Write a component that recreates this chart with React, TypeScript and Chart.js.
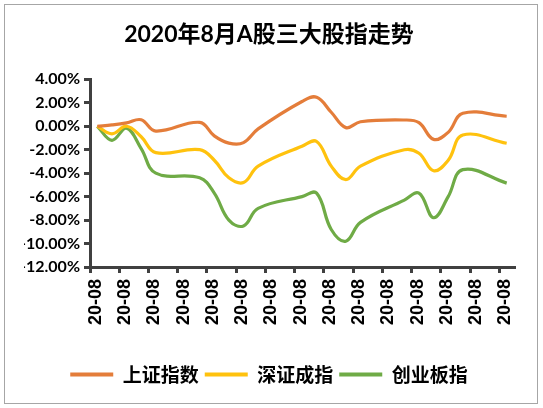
import { useEffect, useRef } from "react";
import { Chart, registerables } from "chart.js";

Chart.register(...registerables);

// trading days of August 2020
const days = [3, 4, 5, 6, 7, 10, 11, 12, 13, 14, 17, 18, 19, 20, 21, 24, 25, 26, 27, 28, 31];

// cumulative change, %
const shanghai = [0, 0.11, 0.28, 0.55, -0.41, 0.33, -0.82, -1.44, -1.4, -0.23, 2.11, 2.47, 1.19, -0.12, 0.38, 0.53, 0.3, -1.12, -0.52, 1.1, 0.85];
const shenzhen = [0, -0.65, 0.0, -0.9, -2.25, -2.0, -2.9, -4.4, -4.8, -3.4, -1.7, -1.3, -3.4, -4.55, -3.4, -2.0, -2.3, -3.8, -2.9, -0.75, -1.45];
const chinext = [0, -1.2, -0.17, -1.9, -4.0, -4.4, -5.7, -8.0, -8.5, -7.0, -6.0, -5.7, -8.8, -9.8, -8.2, -6.3, -5.7, -7.8, -6.0, -3.7, -4.85];

const seriesNames = ["上证指数", "深证成指", "创业板指"];

// date axis ticks every two days (bucket edges) with the month label
const tickPositions = [2.5, 4.5, 6.5, 8.5, 10.5, 12.5, 14.5, 16.5, 18.5, 20.5, 22.5, 24.5, 26.5, 28.5, 30.5];
const tickLabels = ["20-08", "20-08", "20-08", "20-08", "20-08", "20-08", "20-08", "20-08", "20-08", "20-08", "20-08", "20-08", "20-08", "20-08", "20-08"];

const axisColor = "#404040";

export default function App() {
  const canvasRef = useRef<HTMLCanvasElement>(null);
  const chartRef = useRef<Chart | null>(null);

  useEffect(() => {
    document.body.style.margin = "0";
    if (!canvasRef.current) return;
    if (chartRef.current) chartRef.current.destroy();

    const toPoints = (vals: number[]) => vals.map((v, i) => ({ x: days[i], y: v }));
    const colors = ["#E47D3A", "#FFC20E", "#6FAB46"];
    const values = [shanghai, shenzhen, chinext];

    chartRef.current = new Chart(canvasRef.current, {
      type: "line",
      data: {
        datasets: values.map((vals, i) => ({
          label: seriesNames[i],
          data: toPoints(vals),
          borderColor: colors[i],
          backgroundColor: colors[i],
          borderWidth: 3.2,
          pointRadius: 0,
          tension: 0.4,
        })),
      },
      options: {
        animation: false,
        responsive: true,
        maintainAspectRatio: false,
        layout: { padding: { left: 24, right: 29, top: 0, bottom: 14 } },
        scales: {
          x: {
            type: "linear",
            min: 2.5,
            max: 31.5,
            afterBuildTicks: (scale) => {
              scale.ticks = tickPositions.map((v) => ({ value: v }));
            },
            afterFit: (scale) => {
              scale.height = 92;
            },
            ticks: {
              autoSkip: false,
              minRotation: 90,
              maxRotation: 90,
              labelOffset: 6,
              padding: 6,
              color: "#000",
              font: { family: "'Liberation Sans', Arial, sans-serif", weight: "bold", size: 18 },
              callback: (_v, i) => tickLabels[i],
            },
            grid: {
              drawOnChartArea: false,
              drawTicks: true,
              tickLength: 6,
              lineWidth: 3,
              color: axisColor,
            },
            border: { display: true, color: axisColor, width: 3 },
          },
          y: {
            min: -12,
            max: 4,
            afterFit: (scale) => {
              scale.width = 66;
            },
            ticks: {
              stepSize: 2,
              padding: 4,
              color: "#000",
              font: { family: "Lato, sans-serif", weight: "bold", size: 16 },
              callback: (v) => Number(v).toFixed(2) + "%",
            },
            grid: {
              drawOnChartArea: false,
              drawTicks: true,
              tickLength: 6,
              lineWidth: 3,
              color: axisColor,
            },
            border: { display: true, color: axisColor, width: 3 },
          },
        },
        plugins: {
          title: {
            display: true,
            text: "2020年8月A股三大股指走势",
            color: "#000",
            font: { family: "Lato, 'Noto Sans CJK SC', sans-serif", weight: "bold", size: 23 },
            padding: { top: 21, bottom: 30.7 },
          },
          legend: {
            position: "bottom",
            labels: {
              boxWidth: 43,
              boxHeight: 4,
              padding: 6,
              color: "#000",
              font: { family: "'Noto Sans CJK SC', sans-serif", weight: "bold", size: 19 },
              generateLabels: (chart) =>
                Chart.defaults.plugins.legend.labels
                  .generateLabels(chart)
                  .map((item) => ({ ...item, lineWidth: 0, fillStyle: item.strokeStyle })),
            },
          },
          tooltip: { enabled: false },
        },
      },
    });

    return () => {
      if (chartRef.current) {
        chartRef.current.destroy();
        chartRef.current = null;
      }
    };
  }, []);

  return (
    <div style={{ position: "relative", width: 543, height: 408, background: "#fff" }}>
      <div
        style={{
          position: "absolute",
          left: 4,
          top: 4,
          width: 534,
          height: 400,
          border: "1px solid #a6a6a6",
          boxSizing: "border-box",
          pointerEvents: "none",
        }}
      />
      <canvas ref={canvasRef} />
    </div>
  );
}
